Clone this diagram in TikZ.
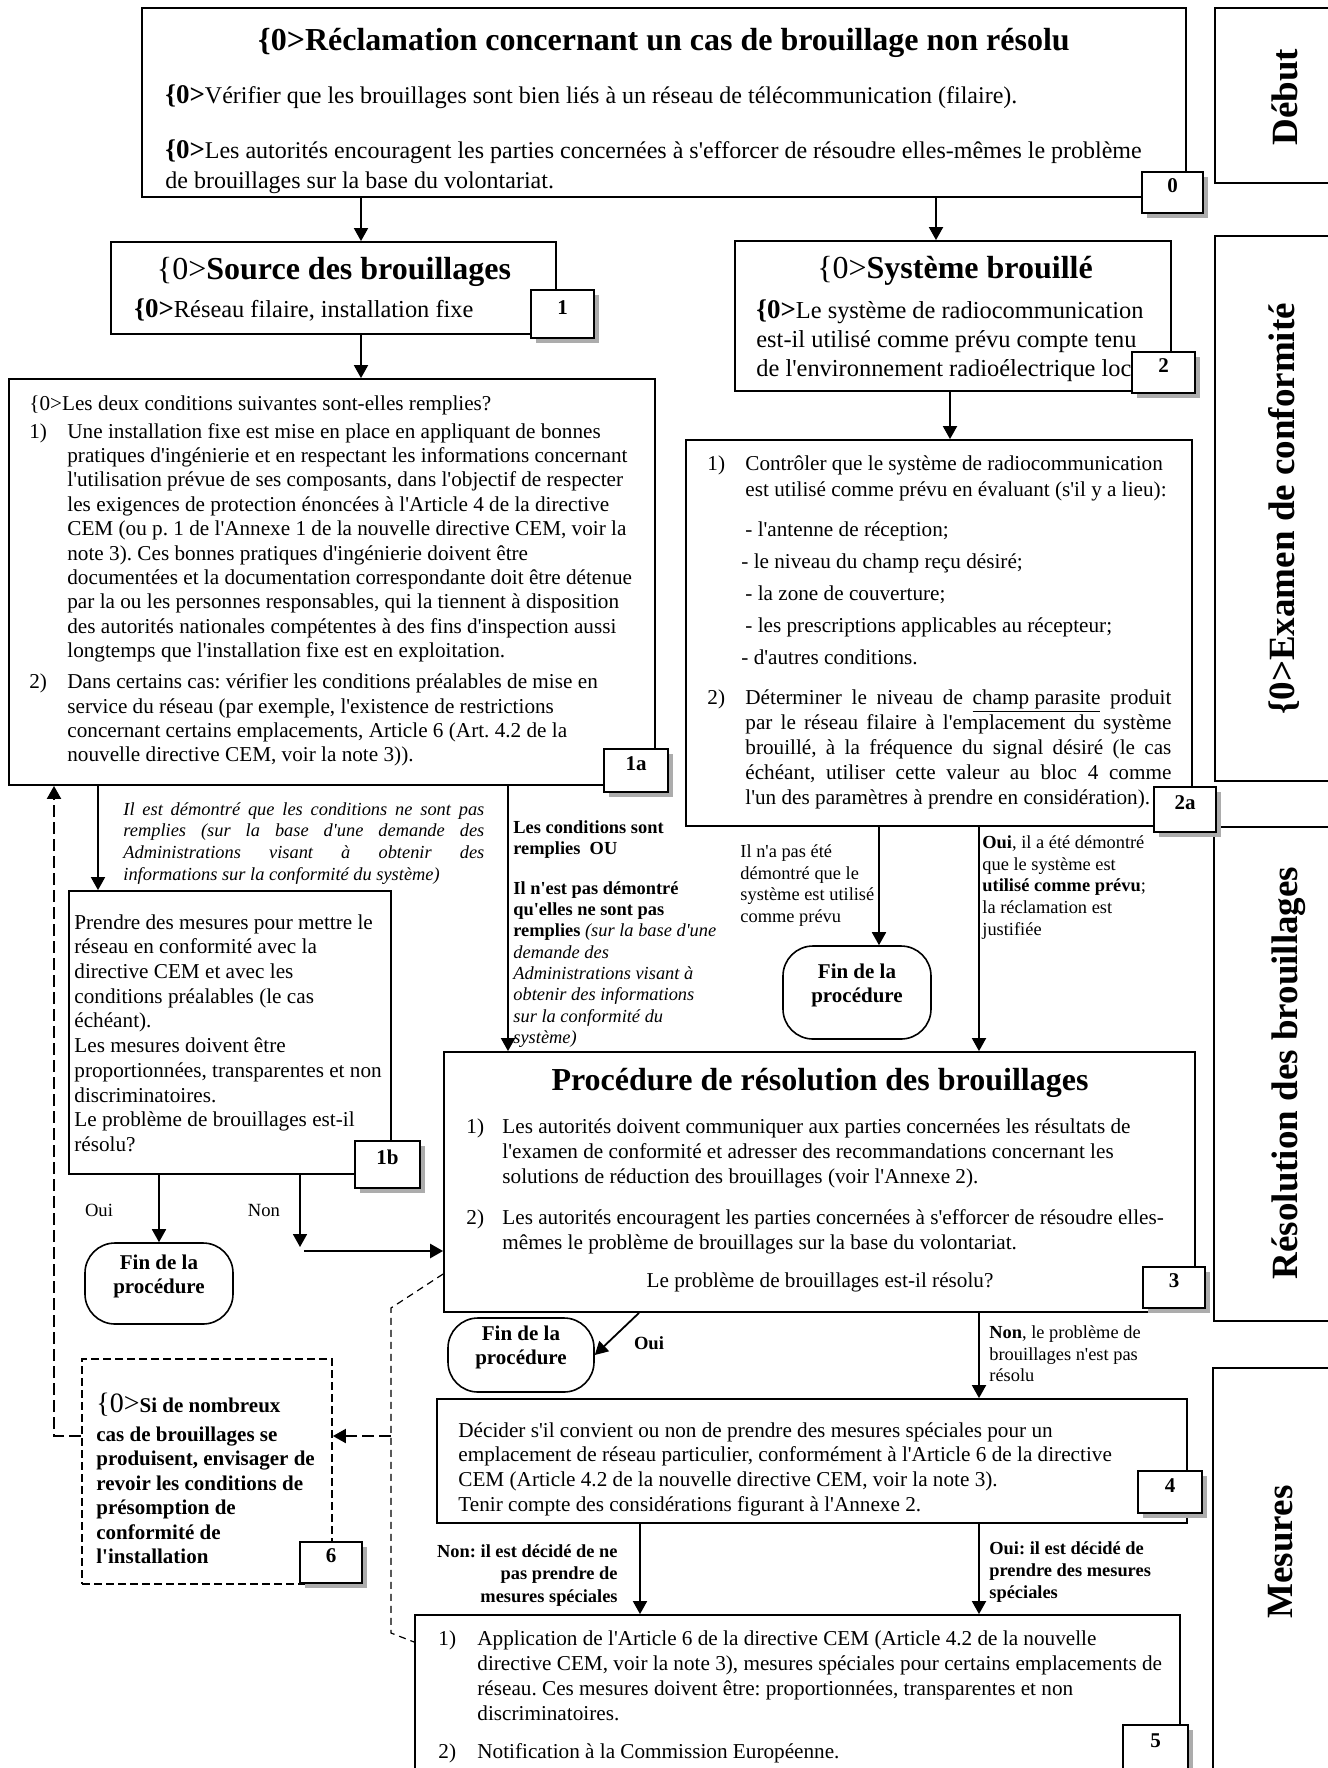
\documentclass[tikz,border=0pt]{standalone}
\usepackage{fontspec}
\setmainfont{Liberation Serif}[Ligatures=TeXOff]
\usetikzlibrary{arrows.meta,fit,shadows}
\frenchspacing

\newcommand\fsz[2]{\fontsize{#1}{#2}\selectfont}
\newcommand\inum[2][19pt]{\makebox[#1][l]{#2}}
\newcommand\hind[1][19pt]{\hspace*{#1}}
\newcommand\jline[2]{\makebox[#1][s]{#2}}

\tikzset{
  box/.style={draw, line width=0.9pt, inner sep=0pt},
  tag/.style={draw, line width=0.9pt, fill=white, inner sep=0pt, font=\bfseries\fsz{10.5}{12},
    drop shadow={shadow xshift=2.5pt, shadow yshift=-2.5pt, fill=gray!65, opacity=1}},
  finbox/.style={draw, line width=0.8pt, inner sep=0pt, rounded corners=15pt, align=center,
    font=\bfseries\fsz{10.5}{12}},
  txt/.style={anchor=north west, inner sep=0pt, align=left, font=\fsz{10.6}{12.3}},
  lbl/.style={anchor=north west, inner sep=0pt, align=left, font=\fsz{9.2}{10.9}},
  side/.style={rotate=90, inner sep=0pt, font=\bfseries\fsz{18.5}{20}},
  arr/.style={line width=0.9pt, -{Triangle[length=6.5pt,width=7pt]}},
  dsh/.style={line width=0.6pt, dash pattern=on 3.5pt off 2.5pt},
  dshb/.style={line width=1pt, dash pattern=on 6pt off 2.5pt}
}

\begin{document}
\begin{tikzpicture}[x=0.5pt, y=-0.5pt]
    \path[use as bounding box, fill=white] (0,0) rectangle (1328,1768);

    \node[box, fit={(1215,8) (1345,183)}] (debut) {};
    \node[side] (ldebut) at (1285,97) {Début};
    \node[box, fit={(1215,236) (1345,781)}] (exam) {};
    \node[side] (lexam) at (1284,509) {\{0>Examen de conformité};
    \node[box, fit={(1214,827) (1345,1321)}] (resol) {};
    \node[side] (lresol) at (1289,1073) {Résolution des brouillages};
    \node[box, fit={(1213,1368) (1345,1800)}] (mes) {};
    \node[side] (lmes) at (1281,1552) {Mesures};

    \node[box, fit={(142,8) (1186,197)}] (top) {};
    \node[anchor=base, inner sep=0pt, font=\bfseries\fsz{16}{18}] (ttl) at (664,50) {\{0>Réclamation concernant un cas de brouillage non résolu};
    \node[anchor=base west, inner sep=0pt, font=\fsz{12}{15}] (chk) at (165,103) {{\bfseries\fsz{13.5}{15}\{0>}Vérifier que les brouillages sont bien liés à un réseau de télécommunication (filaire).};
    \node[txt, font=\fsz{12}{15}] (enc) at (165,139) {{\bfseries\fsz{13.5}{15}\{0>}Les autorités encouragent les parties concernées à s'efforcer de résoudre elles-mêmes le problème\\de brouillages sur la base du volontariat.};
    \node[tag, fit={(1142,172) (1203,213)}] (t0) {0};

    \node[box, fit={(111,242) (556,334)}] (src) {};
    \node[anchor=base, inner sep=0pt, font=\fsz{16}{18}] (lsrc) at (334,279) {\{0>\textbf{Source des brouillages}};
    \node[anchor=base west, inner sep=0pt, font=\fsz{12.2}{14}] (lfil) at (134,317) {{\bfseries\fsz{13.5}{14}\{0>}Réseau filaire, installation fixe};
    \node[tag, fit={(531,290) (594,338)}] (t1) {1};

    \node[box, fit={(735,241) (1171,391)}] (sys) {};
    \node[anchor=base, inner sep=0pt, font=\fsz{16}{18}] (lsys) at (955,278) {\{0>\textbf{Système brouillé}};
    \node[txt, font=\fsz{12.2}{14.5}] (lrad) at (756,299) {{\bfseries\fsz{13.5}{14.5}\{0>}Le système de radiocommunication\\est-il utilisé comme prévu compte tenu\\de l'environnement radioélectrique local};
    \node[tag, fit={(1132,352) (1195,393)}] (t2) {2};

    \node[box, fit={(9,379) (655,785)}] (a1) {};
    \node[txt, font=\fsz{10.6}{12.2}] (la1) at (29,395) {\{0>Les deux conditions suivantes sont-elles remplies?\\[1.8pt]
      \inum{1)}Une installation fixe est mise en place en appliquant de bonnes\\
      \hind pratiques d'ingénierie et en respectant les informations concernant\\
      \hind l'utilisation prévue de ses composants, dans l'objectif de respecter\\
      \hind les exigences de protection énoncées à l'Article 4 de la directive\\
      \hind CEM (ou p. 1 de l'Annexe 1 de la nouvelle directive CEM, voir la\\
      \hind note 3). Ces bonnes pratiques d'ingénierie doivent être\\
      \hind documentées et la documentation correspondante doit être détenue\\
      \hind par la ou les personnes responsables, qui la tiennent à disposition\\
      \hind des autorités nationales compétentes à des fins d'inspection aussi\\
      \hind longtemps que l'installation fixe est en exploitation.\\[3.3pt]
      \inum{2)}Dans certains cas: vérifier les conditions préalables de mise en\\
      \hind service du réseau (par exemple, l'existence de restrictions\\
      \hind concernant certains emplacements, Article 6 (Art. 4.2 de la\\
      \hind nouvelle directive CEM, voir la note 3)).};
    \node[tag, fit={(604,749) (668,792)}] (t1a) {1a};

    \node[box, fit={(686,440) (1192,826)}] (a2) {};
    \node[txt, font=\fsz{10.6}{12.5}] (la2) at (707,455) {\inum{1)}Contrôler que le système de radiocommunication\\[0.5pt]
      \hind est utilisé comme prévu en évaluant (s'il y a lieu):\\[7.5pt]
      \hind - l'antenne de réception;\\[3.5pt]
      \hind[17pt]- le niveau du champ reçu désiré;\\[3.5pt]
      \hind - la zone de couverture;\\[3.5pt]
      \hind - les prescriptions applicables au récepteur;\\[3.5pt]
      \hind[17pt]- d'autres conditions.\\[7.5pt]
      \inum{2)}\jline{213pt}{Déterminer le niveau de \underline{champ parasite} produit}\\
      \hind\jline{213pt}{par le réseau filaire à l'emplacement du système}\\
      \hind\jline{213pt}{brouillé, à la fréquence du signal désiré (le cas}\\
      \hind\jline{213pt}{échéant, utiliser cette valeur au bloc 4 comme}\\
      \hind l'un des paramètres à prendre en considération).};
    \node[tag, fit={(1154,787) (1216,832)}] (t2a) {2a};

    \node[lbl, font=\itshape\fsz{9.2}{10.85}] (lno) at (123,802) {\jline{180.5pt}{Il est démontré que les conditions ne sont pas}\\
      \jline{180.5pt}{remplies (sur la base d'une demande des}\\
      \jline{180.5pt}{Administrations visant à obtenir des}\\
      informations sur la conformité du système)};
    \node[lbl, font=\bfseries\fsz{9.2}{10.65}] (lok) at (513,820) {Les conditions sont\\
      remplies\ \ OU\\[9.3pt]
      Il n'est pas démontré\\
      qu'elles ne sont pas\\
      remplies {\mdseries\itshape (sur la base d'une}\\
      {\mdseries\itshape demande des}\\
      {\mdseries\itshape Administrations visant à}\\
      {\mdseries\itshape obtenir des informations}\\
      {\mdseries\itshape sur la conformité du}\\
      {\mdseries\itshape système)}};
    \node[lbl] (lnd) at (740,844) {Il n'a pas été\\démontré que le\\système est utilisé\\comme prévu};
    \node[lbl] (lyes) at (982,835) {\textbf{Oui}, il a été démontré\\que le système est\\\textbf{utilisé comme prévu};\\la réclamation est\\justifiée};
    \node[finbox, fit={(783,946) (931,1039)}] (fin2) {Fin de la\\procédure};

    \node[box, fit={(69,891) (391,1174)}] (b1) {};
    \node[txt, font=\fsz{10.6}{12.35}] (lb1) at (74,914) {Prendre des mesures pour mettre le\\réseau en conformité avec la\\directive CEM et avec les\\conditions préalables (le cas\\échéant).\\Les mesures doivent être\\proportionnées, transparentes et non\\discriminatoires.\\Le problème de brouillages est-il\\résolu?};
    \node[tag, fit={(355,1141) (420,1188)}] (t1b) {1b};
    \node[anchor=base, inner sep=0pt, font=\fsz{9.3}{11}] (loui1) at (99,1216) {Oui};
    \node[anchor=base, inner sep=0pt, font=\fsz{9.3}{11}] (lnon1) at (264,1216) {Non};
    \node[finbox, fit={(85,1243) (233,1324)}] (fin1) {Fin de la\\procédure};

    \node[box, fit={(444,1052) (1195,1312)}] (p3) {};
    \node[anchor=base, inner sep=0pt, font=\bfseries\fsz{16}{18}] (lp3) at (820,1090) {Procédure de résolution des brouillages};
    \node[txt, font=\fsz{10.6}{12.5}] (lp3a) at (466,1118) {\inum[18pt]{1)}Les autorités doivent communiquer aux parties concernées les résultats de\\
      \hind[18pt]l'examen de conformité et adresser des recommandations concernant les\\
      \hind[18pt]solutions de réduction des brouillages (voir l'Annexe 2).\\[8pt]
      \inum[18pt]{2)}Les autorités encouragent les parties concernées à s'efforcer de résoudre elles-\\
      \hind[18pt]mêmes le problème de brouillages sur la base du volontariat.};
    \node[anchor=base, inner sep=0pt, font=\fsz{10.6}{12.5}] (lp3q) at (820,1287) {Le problème de brouillages est-il résolu?};
    \node[tag, fit={(1143,1267) (1205,1308)}] (t3) {3};

    \node[finbox, fit={(448,1318) (594,1392)}] (fin3) {Fin de la\\procédure};
    \node[anchor=base, inner sep=0pt, font=\bfseries\fsz{9.3}{11}] (loui3) at (649,1349) {Oui};
    \node[lbl] (lnon3) at (989,1325) {\textbf{Non}, le problème de\\brouillages n'est pas\\résolu};

    \node[box, fit={(437,1399) (1187,1523)}] (d4) {};
    \node[txt, font=\fsz{10.6}{12.35}] (ld4) at (458,1422) {Décider s'il convient ou non de prendre des mesures spéciales pour un\\emplacement de réseau particulier, conformément à l'Article 6 de la directive\\CEM (Article 4.2 de la nouvelle directive CEM, voir la note 3).\\Tenir compte des considérations figurant à l'Annexe 2.};
    \node[tag, fit={(1138,1471) (1202,1513)}] (t4) {4};
    \node[lbl, font=\bfseries\fsz{9.2}{11.25}, anchor=north east, align=right] (lnon4) at (618,1544) {Non: il est décidé de ne\\pas prendre de\\mesures spéciales};
    \node[lbl, font=\bfseries\fsz{9.2}{11}] (loui4) at (989,1541) {Oui: il est décidé de\\prendre des mesures\\spéciales};

    \node[box, fit={(415,1615) (1180,1800)}] (m5) {};
    \node[txt, font=\fsz{10.6}{12.5}] (lm5) at (438,1630) {\inum[19.5pt]{1)}Application de l'Article 6 de la directive CEM (Article 4.2 de la nouvelle\\
      \hind[19.5pt]directive CEM, voir la note 3), mesures spéciales pour certains emplacements de\\
      \hind[19.5pt]réseau. Ces mesures doivent être: proportionnées, transparentes et non\\
      \hind[19.5pt]discriminatoires.\\[6.5pt]
      \inum[19.5pt]{2)}Notification à la Commission Européenne.};
    \node[tag, fit={(1123,1725) (1188,1771)}] (t5) {5};

    \node[box, dash pattern=on 4pt off 2pt, fit={(82,1359) (332,1584)}] (n6) {};
    \node[txt, font=\bfseries\fsz{10.5}{12.25}] (ln6) at (96,1393) {{\mdseries\fsz{14}{12.25}\{0>}Si de nombreux\\[2pt]cas de brouillages se\\produisent, envisager de\\revoir les conditions de\\présomption de\\conformité de\\l'installation};
    \node[tag, fit={(300,1542) (362,1583)}] (t6) {6};

    \coordinate (xa) at (361,0);
    \coordinate (xb) at (936,0);
    \coordinate (xc) at (950,0);
    \coordinate (xd) at (98,0);
    \coordinate (xe) at (508,0);
    \coordinate (xf) at (879,0);
    \coordinate (xg) at (979,0);
    \coordinate (xh) at (159,0);
    \coordinate (xi) at (300,0);
    \coordinate (xj) at (639,0);
    \coordinate (xk) at (640,0);
    \coordinate (nonend) at (300,1247);
    \coordinate (nonstart) at (304,1251);

    \draw[arr] (top.south -| xa) -- (src.north -| xa);
    \draw[arr] (top.south -| xb) -- (sys.north -| xb);
    \draw[arr] (src.south -| xa) -- (a1.north -| xa);
    \draw[arr] (sys.south -| xc) -- (a2.north -| xc);
    \draw[arr] (a1.south -| xd) -- (b1.north -| xd);
    \draw[arr] (a1.south -| xe) -- (p3.north -| xe);
    \draw[arr] (a2.south -| xf) -- (fin2.north -| xf);
    \draw[arr] (a2.south -| xg) -- (p3.north -| xg);
    \draw[arr] (b1.south -| xh) -- (fin1.north -| xh);
    \draw[arr] (b1.south -| xi) -- (nonend);
    \draw[arr, line width=1.3pt] (nonstart) -- (p3.west |- nonstart);
    \draw[arr] (p3.south -| xj) -- (fin3.east);
    \draw[arr] (p3.south -| xg) -- (d4.north -| xg);
    \draw[arr] (d4.south -| xk) -- (m5.north -| xk);
    \draw[arr] (d4.south -| xg) -- (m5.north -| xg);

    \coordinate (dl0) at (442,1274);
    \coordinate (dl1) at (391,1308);
    \coordinate (dl2) at (391,1436);
    \coordinate (dl3) at (391,1633);
    \coordinate (dl4) at (54,1436);
    \coordinate (dl5) at (0,1642);
    \draw[dsh] (p3.west |- dl0) -- (dl1) -- (dl3) -- (m5.west |- dl5);
    \draw[arr, dshb] (dl2) -- (n6.east |- dl2);
    \draw[arr, dshb] (n6.west |- dl2) -- (dl4) -- (a1.south -| dl4);
\end{tikzpicture}
\end{document}
